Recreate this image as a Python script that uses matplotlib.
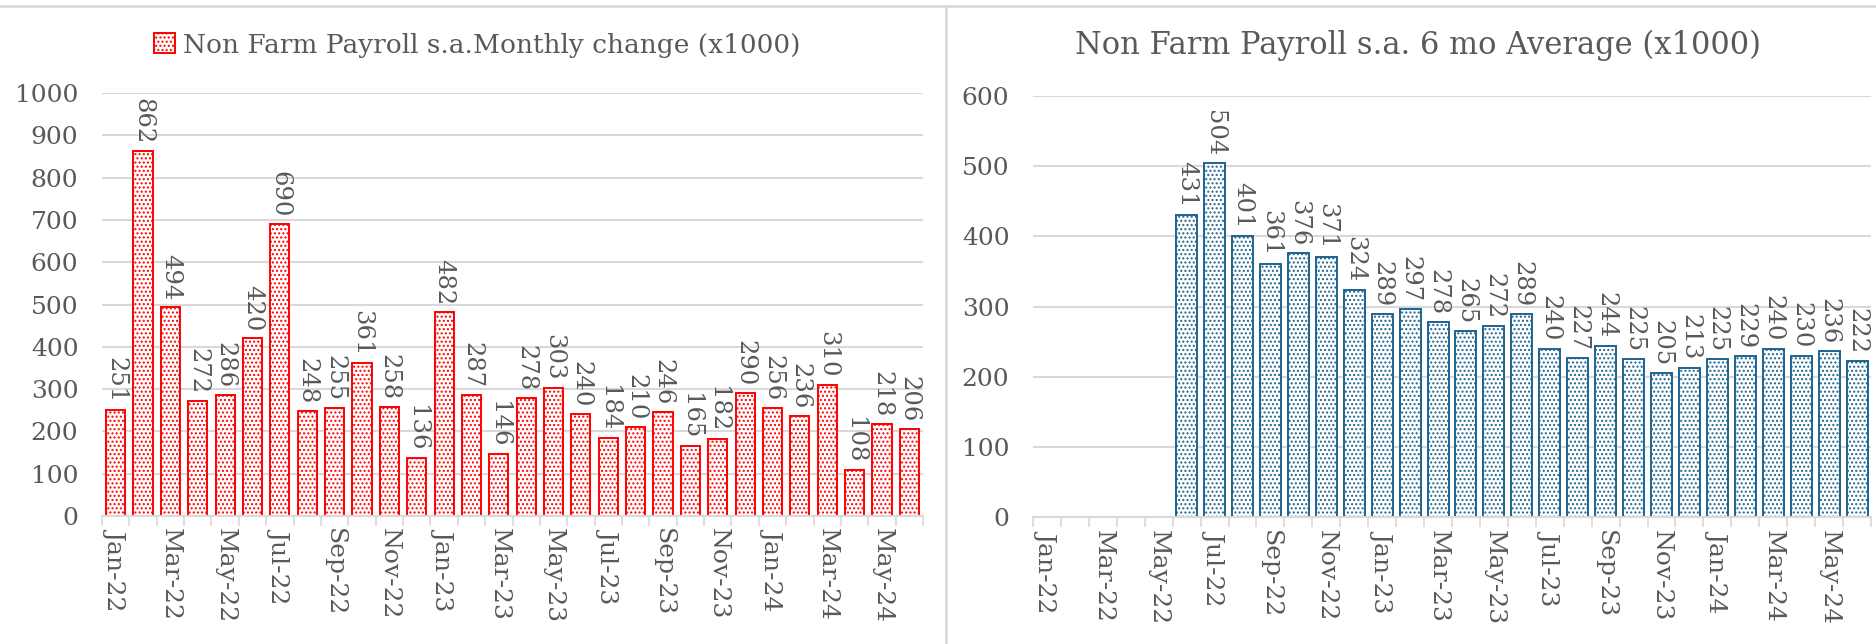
import numpy as np
import matplotlib
matplotlib.use("Agg")
import matplotlib.pyplot as plt
from matplotlib.lines import Line2D
from matplotlib.patches import Patch

months = ["Jan-22", "Feb-22", "Mar-22", "Apr-22", "May-22", "Jun-22", "Jul-22", "Aug-22",
          "Sep-22", "Oct-22", "Nov-22", "Dec-22", "Jan-23", "Feb-23", "Mar-23", "Apr-23",
          "May-23", "Jun-23", "Jul-23", "Aug-23", "Sep-23", "Oct-23", "Nov-23", "Dec-23",
          "Jan-24", "Feb-24", "Mar-24", "Apr-24", "May-24", "Jun-24"]
monthly_change = [251, 862, 494, 272, 286, 420, 690, 248, 255, 361, 258, 136, 482, 287, 146,
                  278, 303, 240, 184, 210, 246, 165, 182, 290, 256, 236, 310, 108, 218, 206]
avg_6mo = [None, None, None, None, None, 431, 504, 401, 361, 376, 371, 324, 289, 297, 278,
           265, 272, 289, 240, 227, 244, 225, 205, 213, 225, 229, 240, 230, 236, 222]

left_title = "Non Farm Payroll s.a.Monthly change (x1000)"
right_title = "Non Farm Payroll s.a. 6 mo Average (x1000)"

plt.rcParams['font.family'] = ['DejaVu Serif']
plt.rcParams['hatch.linewidth'] = 1.0
TXT = "#595959"
GRID = "#d9d9d9"

W, H = 1876, 644
fig = plt.figure(figsize=(W / 100, H / 100), dpi=100)
fig.patch.set_facecolor("white")


def px_axes(x0, y_top, x1, y_bottom):
    return fig.add_axes([x0 / W, 1 - y_bottom / H, (x1 - x0) / W, (y_bottom - y_top) / H])


def style_axis(ax, ymax):
    n = len(months)
    ax.set_xlim(-0.5, n - 0.5)
    ax.set_ylim(0, ymax)
    ax.set_yticks(np.arange(0, ymax + 1, 100))
    ax.grid(axis="y", color=GRID, linewidth=1.5)
    ax.set_axisbelow(True)
    for s in ["top", "right", "left"]:
        ax.spines[s].set_visible(False)
    ax.spines["bottom"].set_color(GRID)
    ax.spines["bottom"].set_linewidth(1.5)
    ax.tick_params(axis="y", length=0, pad=17, labelsize=18, labelcolor=TXT)
    major = np.arange(0, n, 2)
    ax.set_xticks(major)
    ax.set_xticklabels([months[i] for i in major], rotation=270, ha="center", va="top")
    ax.set_xticks(np.arange(-0.5, n, 1), minor=True)
    ax.tick_params(axis="x", which="major", length=0, pad=9, labelsize=18, labelcolor=TXT)
    ax.tick_params(axis="x", which="minor", length=7, width=1.2, color=GRID)


def add_labels(ax, xs, vals):
    for x, v in zip(xs, vals):
        if v is None:
            continue
        ax.annotate(str(v), (x, v), xytext=(0, 5), textcoords="offset points",
                    rotation=270, ha="center", va="bottom", fontsize=17.5, color=TXT)


# Left panel
ax1 = px_axes(102, 93, 923, 516)
x = np.arange(len(months))
red = "#ff0000"
ax1.bar(x, monthly_change, width=0.7, facecolor="white", edgecolor=red,
        linewidth=1.4, hatch="....")
style_axis(ax1, 1000)
add_labels(ax1, x, monthly_change)

# Right panel
ax2 = px_axes(1033, 96, 1871, 517)
blue = "#1f6391"
vals2 = [np.nan if v is None else v for v in avg_6mo]
ax2.bar(x, vals2, width=0.75, facecolor="white", edgecolor=blue,
        linewidth=1.4, hatch="....")
style_axis(ax2, 600)
add_labels(ax2, x, avg_6mo)

# Titles / legend
handle = Patch(facecolor="white", edgecolor=red, hatch="....", linewidth=1.4)
fig.legend([handle], [left_title], loc="center", bbox_to_anchor=(477 / W, 1 - 45 / H),
           frameon=False, fontsize=19, labelcolor=TXT, handlelength=0.8, handleheight=0.8,
           handletextpad=0.3)
fig.text(1418 / W, 1 - 45 / H, right_title, ha="center", va="center", fontsize=22, color=TXT)

# Panel borders
fig.add_artist(Line2D([0, 1], [1 - 6 / H, 1 - 6 / H], transform=fig.transFigure,
                      color=GRID, linewidth=2))
fig.add_artist(Line2D([946 / W, 946 / W], [0, 1 - 6 / H], transform=fig.transFigure,
                      color=GRID, linewidth=2))

fig.savefig("out.png", dpi=100)
